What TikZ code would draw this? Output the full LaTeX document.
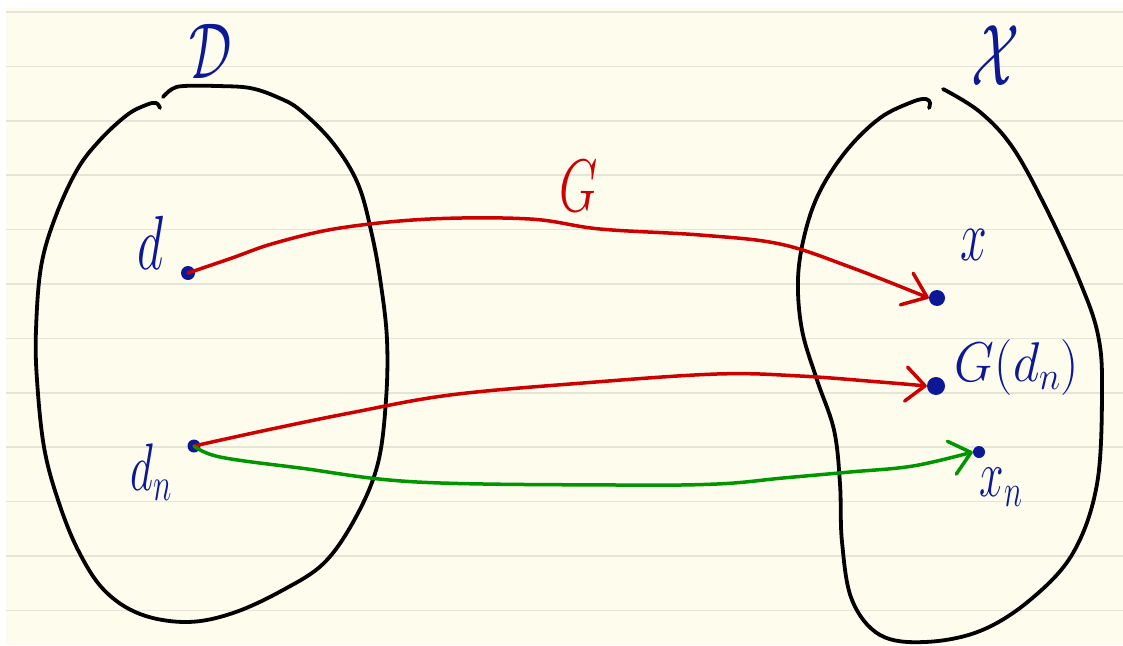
\RequirePackage{fix-cm}
\documentclass[tikz,border=0pt]{standalone}
\usepackage{graphicx}
\usetikzlibrary{arrows.meta}
\definecolor{ink}{RGB}{12,24,150}
\definecolor{pen}{RGB}{204,0,0}
\definecolor{leaf}{RGB}{0,150,0}
\definecolor{paper}{RGB}{253,252,237}
\definecolor{ruling}{RGB}{230,228,214}
\newcommand{\hand}[4]{{\fontsize{#1}{#1}\selectfont\scalebox{#2}[#3]{$#4$}}}
\begin{document}
\begin{tikzpicture}[x=1pt,y=-1pt,
  outline/.style={draw=black, line width=3.8pt, line cap=round, line join=round},
  mapred/.style={draw=pen, line width=3.5pt, line cap=round, line join=round},
  mapgreen/.style={draw=leaf, line width=3.5pt, line cap=round, line join=round},
  dot/.style={circle, fill=ink, inner sep=0pt},
  lbl/.style={inner sep=0pt, text=ink},
  barb/.style={-{Straight Barb[length=#1pt, width=34pt, round]}}
]
\useasboundingbox (0,0) rectangle (1123,645);
% paper
\fill[white] (0,0) rectangle (1123,645);
\fill[paper] (6,8) rectangle (1123,645);
\foreach \k in {0,...,11} {
  \draw[ruling, line width=1.6pt] (6,12+54.4*\k) -- (1123,12+54.4*\k);
}
% set D outline
\draw[outline] plot[smooth, tension=0.6] coordinates {
  (163,97) (172,89) (184,86) (217,86) (250,88) (277,97) (300,110) (333,143)
  (358,184) (372,235) (381,285) (387,340) (386,400) (378,463) (357,515)
  (325,562) (283,590) (233,613) (187,622) (140,614) (104,590) (78,550)
  (58,500) (44,447) (37,380) (36,330) (41,267) (55,218) (77,170)
  (100,140) (127,115) (146,105) (156,103) (160,108)};
% set X outline
\draw[outline] plot[smooth, tension=0.6] coordinates {
  (943,89) (980,112) (1013,148) (1047,210) (1080,282) (1098,335)
  (1102,390) (1097,484) (1073,553) (1030,600) (980,631) (925,642)
  (880,635) (852,600) (842,542) (840,484) (834,430) (817,380) (802,330)
  (798,279) (805,233) (820,191) (847,150) (880,118) (912,102) (926,99)
  (930,103) (929,108)};
% points
\node[dot, minimum size=14pt] (dd) at (188,273) {};
\node[dot, minimum size=13pt] (dn) at (194,446) {};
\node[dot, minimum size=16pt] (xd) at (937,298) {};
\node[dot, minimum size=18pt] (gd) at (936,386) {};
\node[dot, minimum size=12pt] (xn) at (979,452) {};
% labels
\node[lbl] (lD) at (211,51) {\hand{66}{0.8}{1.2}{\mathcal{D}}};
\node[lbl] (lX) at (996,56) {\hand{70}{0.8}{1.25}{\mathcal{X}}};
\node[lbl, text=pen] (lG) at (579,186) {\hand{62}{0.8}{1.2}{G}};
\node[lbl] (ld) at (151,243) {\hand{64}{0.8}{1.2}{d}};
\node[lbl] (ldn) at (151,472) {\hand{56}{0.8}{1.2}{d_n}};
\node[lbl] (lx) at (974,245) {\hand{60}{0.8}{1.2}{x}};
\node[lbl] (lgd) at (1017,367) {\hand{56}{0.92}{1.0}{G(d_n)}};
\node[lbl] (lxn) at (1001,487) {\hand{55}{0.8}{1.2}{x_n}};
% maps
\draw[mapred, barb=22] plot[smooth, tension=0.6] coordinates {
  (dd.center) (232,258) (275,243) (340,228) (430,219) (530,219) (600,229)
  (700,235) (780,244) (850,267) (xd.west)};
\draw[mapred, barb=19] plot[smooth, tension=0.6] coordinates {
  (dn.center) (267,430) (350,413) (450,395) (583,383) (717,374) (800,376)
  (880,382) (gd.west)};
\draw[mapgreen, barb=20] plot[smooth, tension=0.6] coordinates {
  (dn.center) (220,457) (300,468) (417,482) (617,485) (717,484) (783,478)
  (850,472) (913,466) (xn.west)};
\end{tikzpicture}
\end{document}
